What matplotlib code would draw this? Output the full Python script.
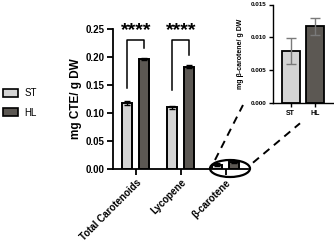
import matplotlib
matplotlib.use("Agg")
import matplotlib.pyplot as plt
from matplotlib.patches import Patch, Ellipse
from matplotlib.lines import Line2D
import numpy as np

plt.rcParams['font.family'] = ['Liberation Sans', 'DejaVu Sans']

categories = ["Total Carotenoids", "Lycopene", "β-carotene"]
series = ["ST", "HL"]
st_vals = [0.118, 0.110, 0.0079]
hl_vals = [0.196, 0.183, 0.0117]
st_err = [0.003, 0.002, 0.0020]
hl_err = [0.002, 0.003, 0.0013]
y_ticks = [0.00, 0.05, 0.10, 0.15, 0.20, 0.25]
inset_ticks = [0.000, 0.005, 0.010, 0.015]
sig_labels = ["****", "****"]

ST_COLOR = "#d4d4d4"
HL_COLOR = "#5c5853"

W, H = 334, 250
fig = plt.figure(figsize=(W / 100, H / 100), dpi=100)

def fx(x):
    return x / W

def fy(y):
    return 1 - y / H

# main axes
ax = fig.add_axes([fx(113), fy(169), fx(248) - fx(113), fy(29) - fy(169)])
x = np.arange(len(categories))
bw = 0.22
off = 0.19
ax.bar(x - off, st_vals, bw, color=ST_COLOR, edgecolor="black", linewidth=1.4, zorder=2)
ax.bar(x + off, hl_vals, bw, color=HL_COLOR, edgecolor="black", linewidth=1.4, zorder=2)
ax.errorbar(x - off, st_vals, yerr=st_err, fmt="none", ecolor="black", elinewidth=1, capsize=2.5, capthick=1, zorder=3)
ax.errorbar(x + off, hl_vals, yerr=hl_err, fmt="none", ecolor="black", elinewidth=1, capsize=2.5, capthick=1, zorder=3)
ax.set_xlim(-0.51, 2.5)
ax.set_ylim(0, 0.25)
ax.set_yticks(y_ticks)
ax.set_yticklabels([f"{v:.2f}" for v in y_ticks], fontweight="bold", fontsize=7)
ax.set_xticks(x)
ax.set_xticklabels(categories, rotation=45, ha="right", rotation_mode="anchor",
                   fontweight="bold", fontsize=7)
for s in ["top", "right"]:
    ax.spines[s].set_visible(False)
for s in ["left", "bottom"]:
    ax.spines[s].set_linewidth(1.3)
ax.tick_params(axis="both", width=1.3, length=4, pad=2)
ax.set_ylabel("mg CTE/ g DW", fontweight="bold", fontsize=8.5, labelpad=3)

# significance brackets
legs = [(0.145, 0.216), (0.141, 0.203)]
for i, lab in enumerate(sig_labels):
    yb = 0.230
    l, r = legs[i]
    ax.plot([i - off, i - off, i + off, i + off], [l, yb, yb, r], color="black", lw=1.1, clip_on=False)
    ax.text(i, 0.247, lab, ha="center", va="center", fontsize=14, fontweight="bold", clip_on=False)

# legend
handles = [Patch(facecolor=ST_COLOR, edgecolor="black", linewidth=1.2, label=series[0]),
           Patch(facecolor=HL_COLOR, edgecolor="black", linewidth=1.2, label=series[1])]
fig.legend(handles=handles, loc="center left", bbox_to_anchor=(fx(2), fy(103)), frameon=False,
           fontsize=7, handlelength=1.5, handleheight=0.9, labelspacing=0.95, handletextpad=0.7,
           borderaxespad=0.0, borderpad=0.1)

# inset axes
ax2 = fig.add_axes([fx(272.5), fy(103.3), fx(333) - fx(272.5), fy(4.5) - fy(103.3)])
xi = np.arange(2)
ax2.bar(xi, [st_vals[2], hl_vals[2]], 0.74, color=[ST_COLOR, HL_COLOR], edgecolor="black", linewidth=1.3, zorder=2)
ax2.errorbar(xi, [st_vals[2], hl_vals[2]], yerr=[st_err[2], hl_err[2]], fmt="none",
             ecolor="#7a7a7a", elinewidth=1, capsize=3.5, capthick=1, zorder=3)
ax2.set_xlim(-0.74, 1.73)
ax2.set_ylim(0, 0.015)
ax2.set_yticks(inset_ticks)
ax2.set_yticklabels([f"{v:.3f}" for v in inset_ticks], fontsize=4.5, fontweight="bold")
ax2.set_xticks(xi)
ax2.set_xticklabels(series, fontsize=5, fontweight="bold")
for s in ["top", "right"]:
    ax2.spines[s].set_visible(False)
for s in ["left", "bottom"]:
    ax2.spines[s].set_linewidth(1.0)
ax2.tick_params(axis="both", width=1.0, length=3, pad=1.5)
ax2.set_ylabel("mg β-carotene/ g DW", fontsize=5, fontweight="bold", labelpad=5)

# zoom ellipse and dashed connectors
ell = Ellipse((fx(230), fy(168.5)), fx(40), 17 / H, transform=fig.transFigure,
              fill=False, edgecolor="black", linewidth=1.6)
fig.add_artist(ell)
for (x0, y0, x1, y1) in [(215, 160, 243, 105), (253, 162.7, 300, 123.3)]:
    fig.add_artist(Line2D([fx(x0), fx(x1)], [fy(y0), fy(y1)], transform=fig.transFigure,
                          color="black", lw=1.4, linestyle=(0, (4, 3))))

fig.savefig("out.png", dpi=100)
